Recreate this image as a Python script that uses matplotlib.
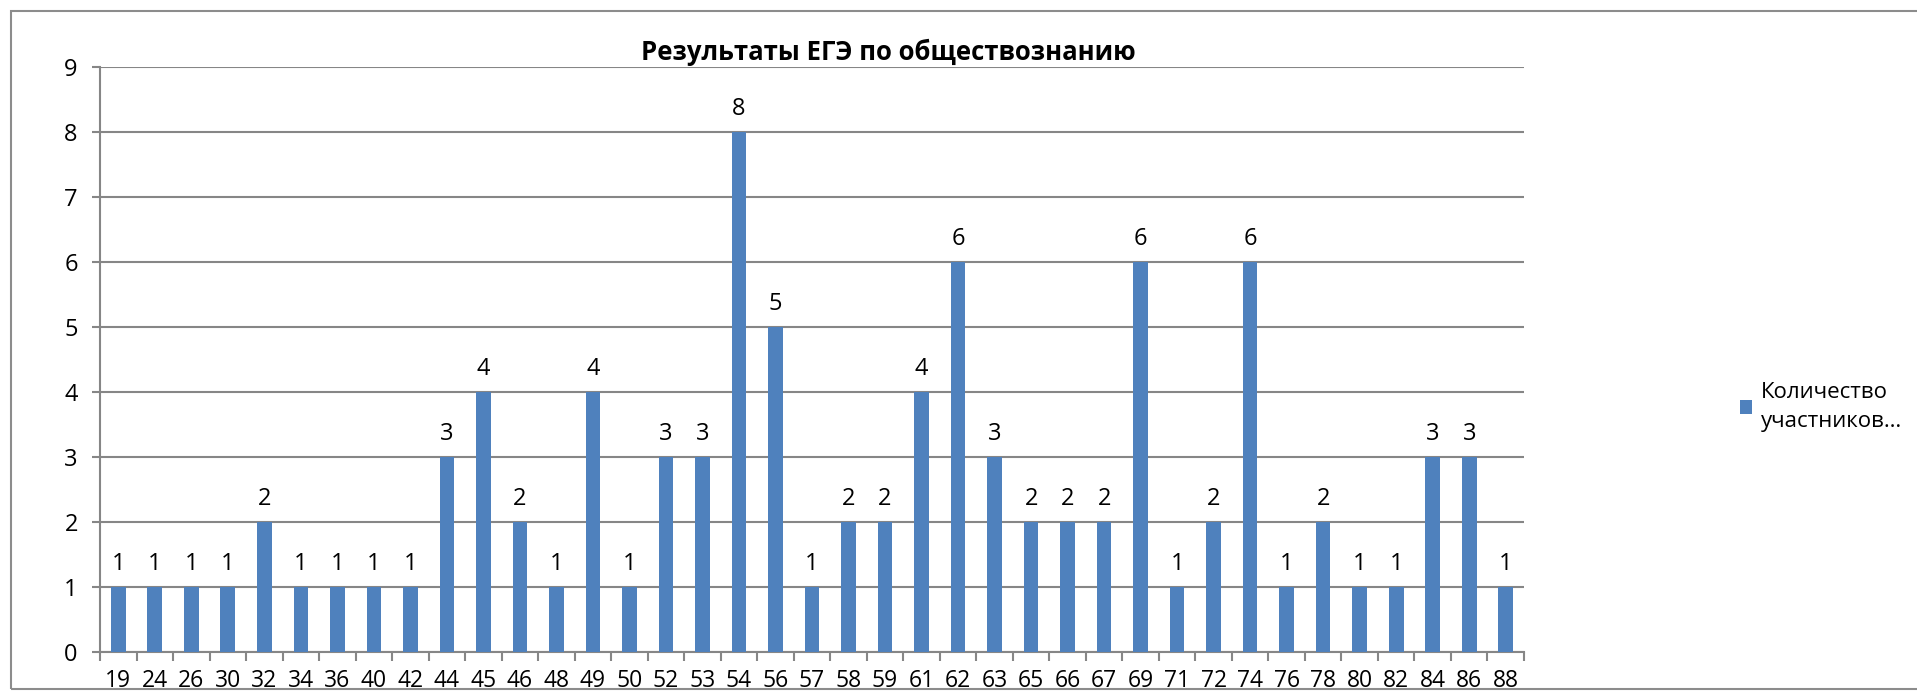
import matplotlib
matplotlib.use("Agg")
import matplotlib.pyplot as plt
from matplotlib.patches import Rectangle

plt.rcParams['font.family'] = ['Open Sans', 'DejaVu Sans']

scores = ["19", "24", "26", "30", "32", "34", "36", "40", "42", "44", "45", "46", "48",
          "49", "50", "52", "53", "54", "56", "57", "58", "59", "61", "62", "63", "65",
          "66", "67", "69", "71", "72", "74", "76", "78", "80", "82", "84", "86", "88"]
counts = [1, 1, 1, 1, 2, 1, 1, 1, 1, 3, 4, 2, 1,
          4, 1, 3, 3, 8, 5, 1, 2, 2, 4, 6, 3, 2,
          2, 2, 6, 1, 2, 6, 1, 2, 1, 1, 3, 3, 1]

title = "Результаты ЕГЭ по обществознанию"
series_name = "Количество\nучастников…"

W, H = 1917, 691
fig = plt.figure(figsize=(W / 100, H / 100), dpi=100)

# chart frame
fig.patches.append(Rectangle((11 / W, 1 - 689 / H), 1.05, (689 - 11) / H,
                             transform=fig.transFigure, fill=False,
                             edgecolor="#8c8c8c", linewidth=1.5))

ax = fig.add_axes([100 / W, 1 - 652 / H, 1424 / W, 585 / H])

grid_c = "#868686"
x = list(range(len(scores)))
bars = ax.bar(x, counts, width=0.4, color="#4F81BD", zorder=3, label=series_name)

for xi, v in zip(x, counts):
    ax.annotate(str(v), (xi, v), xytext=(0, 8), textcoords="offset points",
                ha="center", va="bottom", fontsize=17, color="black")

ax.set_xlim(-0.5, len(scores) - 0.5)
ax.set_ylim(0, 9)
ax.set_yticks(range(0, 10))
ax.yaxis.grid(True, color=grid_c, linewidth=1.5, zorder=0)

ax.set_xticks(x)
ax.set_xticklabels(scores, fontsize=16.5)
ax.set_xticks([i - 0.5 for i in range(len(scores) + 1)], minor=True)
ax.tick_params(axis="x", which="major", length=0, pad=12)
ax.tick_params(axis="x", which="minor", length=6.5, color=grid_c, width=1.5)
ax.tick_params(axis="y", length=6, color=grid_c, width=1.5, labelsize=17, pad=10)

for s in ["top", "right"]:
    ax.spines[s].set_visible(False)
ax.spines["left"].set_color(grid_c)
ax.spines["left"].set_linewidth(1.5)
ax.spines["bottom"].set_color(grid_c)
ax.spines["bottom"].set_linewidth(1.5)

fig.text(888 / W, 1 - 60 / H, title, ha="center", va="baseline",
         fontsize=18.5, fontweight="bold")

leg = fig.legend(handles=[bars], labels=[series_name], loc="center left",
                 bbox_to_anchor=(1740 / W, 1 - 407 / H), frameon=False,
                 fontsize=16, handlelength=0.55, handleheight=0.55, handletextpad=0.4,
                 borderaxespad=0, borderpad=0, labelspacing=0)
for t in leg.get_texts():
    t.set_linespacing(1.5)

fig.savefig("out.png", dpi=100)
